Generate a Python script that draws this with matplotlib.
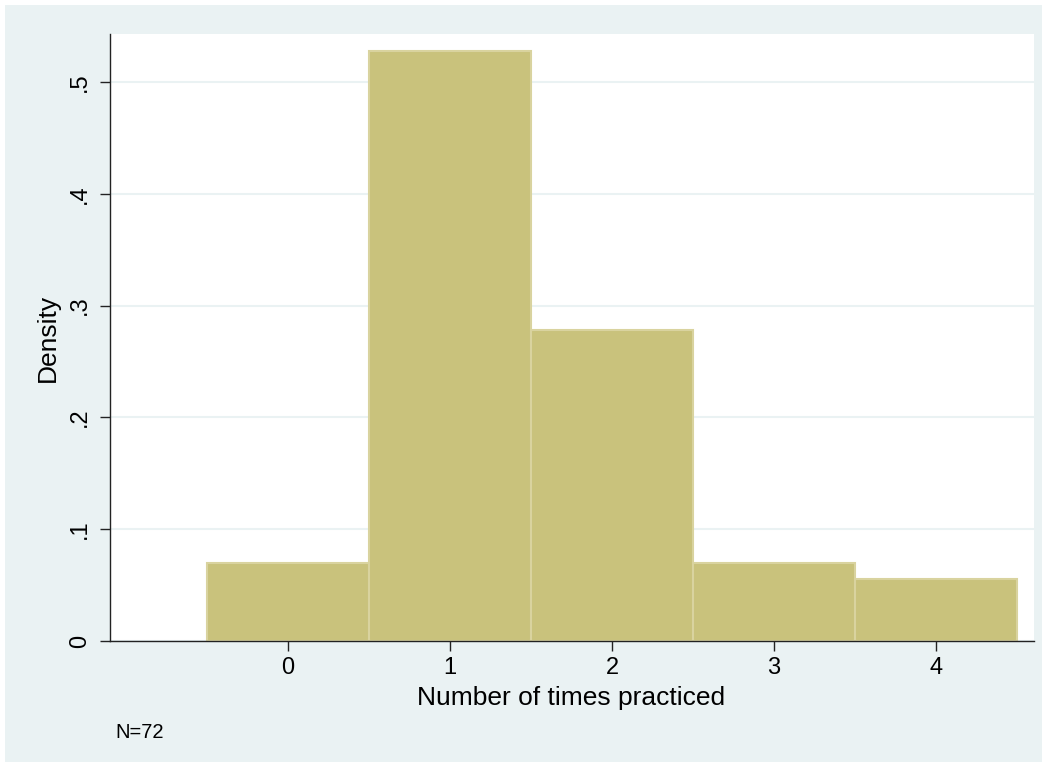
import numpy as np
import matplotlib.pyplot as plt
from matplotlib.patches import Rectangle

plt.rcParams['font.family'] = ['Liberation Sans', 'DejaVu Sans']

# times practiced and counts per value (N=72)
times = [0, 1, 2, 3, 4]
counts = [5, 38, 20, 5, 4]
n_obs = sum(counts)
density = [c / n_obs for c in counts]

bg = '#eaf2f3'
fig = plt.figure(figsize=(10.47, 7.67), dpi=100, facecolor='white')
fig.patches.append(Rectangle((5/1047, 5/767), 1037/1047, 757/767,
                             transform=fig.transFigure, facecolor=bg,
                             edgecolor='none', zorder=-10))

ax = fig.add_axes([110/1047, 1 - 641/767, 924/1047, 607/767])
ax.set_facecolor('white')
ax.bar(times, density, width=1.0, color='#c9c27c', edgecolor='#d9d39f',
       linewidth=1.5, zorder=2)

ax.set_xlim(-1.099, 4.605)
ax.set_ylim(0, 0.543)
ax.set_xticks(times)
ax.set_xticklabels([str(t) for t in times])
yt = [0, 0.1, 0.2, 0.3, 0.4, 0.5]
ax.set_yticks(yt)
ax.set_yticklabels(['0', '.1', '.2', '.3', '.4', '.5'], rotation=90, va='center')
ax.grid(axis='y', color=bg, linewidth=1.5, zorder=0)
ax.set_axisbelow(True)

for s in ['top', 'right']:
    ax.spines[s].set_visible(False)
for s in ['left', 'bottom']:
    ax.spines[s].set_color('#222222')
    ax.spines[s].set_linewidth(1.0)
ax.tick_params(axis='both', length=7.5, width=1.0, color='#222222',
               labelsize=17, pad=6)
ax.tick_params(axis='x', pad=4)

ax.set_xlabel('Number of times practiced', fontsize=19)
ax.set_ylabel('Density', fontsize=19)
ax.xaxis.set_label_coords((571 - 110) / 924, (641 - 698) / 607)
ax.yaxis.set_label_coords((48 - 110) / 924, 0.5)
ax.xaxis.label.set_va('center')
ax.yaxis.label.set_va('center')
fig.text(115/1047, 1 - 733/767, 'N=%d' % n_obs, fontsize=14.5, va='center')

fig.savefig('out.png', dpi=100, facecolor='white')
